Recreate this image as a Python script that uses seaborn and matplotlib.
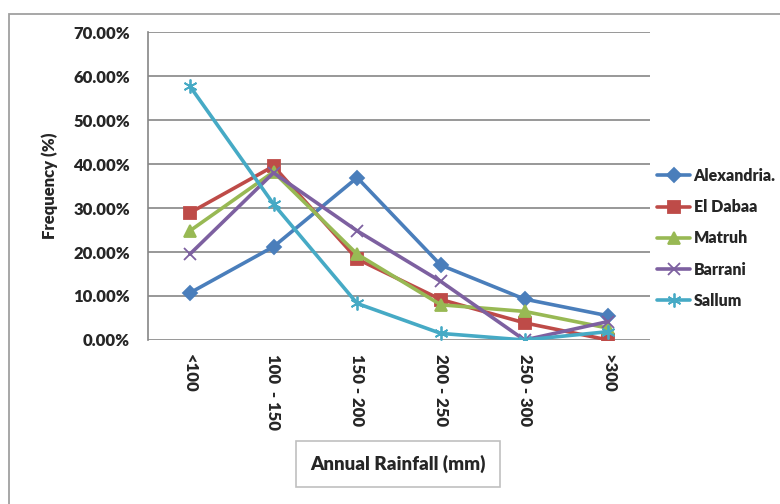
import matplotlib
matplotlib.use("Agg")
import matplotlib.pyplot as plt
from matplotlib.patches import Rectangle
from matplotlib.ticker import FuncFormatter
import pandas as pd
import seaborn as sns

# Rainfall classes and the share of years (%) falling in each class per station
categories = ["<100", "100  - 150", "150 - 200", "200 - 250", "250 - 300", ">300"]
alexandria = [10.7, 21.2, 36.9, 17.0, 9.3, 5.5]
el_dabaa = [28.9, 39.5, 18.4, 9.2, 3.9, 0.0]
matruh = [24.8, 38.2, 19.5, 8.0, 6.5, 2.7]
barrani = [19.5, 38.0, 24.8, 13.3, 0.0, 4.2]
sallum = [57.7, 30.9, 8.3, 1.5, 0.0, 1.9]

stations = ["Alexandria.", "El Dabaa", "Matruh", "Barrani", "Sallum"]
series = [alexandria, el_dabaa, matruh, barrani, sallum]

rows = []
for name, vals in zip(stations, series):
    for i, v in enumerate(vals):
        rows.append({"Station": name, "pos": i, "Frequency": v})
df = pd.DataFrame(rows)

sns.set_style("white")
plt.rcParams["font.family"] = ["Lato", "DejaVu Sans"]
W = "heavy"

colors = ["#4A7EBB", "#BE4B48", "#98B954", "#7D60A0", "#46AAC5"]
markers = ["D", "s", "^", "x", (6, 2, 0)]
msizes = [7, 9, 9, 9, 10]

fig = plt.figure(figsize=(7.8, 5.04), dpi=100)
ax = fig.add_axes([148 / 780, 1 - 340 / 504, 502 / 780, 308 / 504])

# outer chart border
fig.patches.append(Rectangle((9 / 780, -0.1), 1.0, 1 - 13.5 / 504 + 0.1,
                             transform=fig.transFigure, fill=False,
                             edgecolor="#A0A0A0", linewidth=1.3, zorder=0))

for name, c, m, ms in zip(stations, colors, markers, msizes):
    sub = df[df["Station"] == name]
    sns.lineplot(data=sub, x="pos", y="Frequency", ax=ax, color=c,
                 linewidth=2.6, marker=m, markersize=ms,
                 markeredgecolor=c, markerfacecolor=c, markeredgewidth=1.3,
                 label=name, legend=False)

ax.set_xlim(-0.5, len(categories) - 0.5)
ax.set_ylim(0, 70)
ax.set_yticks(range(0, 71, 10))
ax.yaxis.set_major_formatter(FuncFormatter(lambda v, p: f"{v:.2f}%"))
ax.set_xticks(range(len(categories)))
ax.set_xticklabels(categories, rotation=270, fontsize=12, fontweight=W,
                   va="top", ha="center")
ax.tick_params(axis="x", length=0, pad=10)
ax.tick_params(axis="y", length=5, width=1, color="#868686", direction="out",
               labelsize=12, pad=8)
for lab in ax.get_yticklabels():
    lab.set_fontweight(W)

ax.grid(axis="y", color="#868686", linewidth=1.2)
ax.set_axisbelow(True)
for s in ["top", "right", "bottom"]:
    ax.spines[s].set_visible(False)
ax.spines["left"].set_color("#868686")
ax.spines["left"].set_linewidth(1.2)

ax.set_xlabel("")
ax.set_ylabel("Frequency (%)", fontsize=12, fontweight=W)
ax.yaxis.set_label_coords(-0.18, 0.5)

fig.text(398 / 780, 1 - 464 / 504, "Annual Rainfall (mm)", ha="center",
         va="center", fontsize=13.5, fontweight=W,
         bbox=dict(boxstyle="square,pad=0.75", facecolor="white",
                   edgecolor="#C0C0C0", linewidth=1.2))

leg = ax.legend(loc="upper left", bbox_to_anchor=(0.985, 0.605), frameon=False,
                prop={"weight": W, "size": 11.5}, handlelength=2.1,
                labelspacing=0.95, handletextpad=0.2)

fig.savefig("out.png", dpi=100)
